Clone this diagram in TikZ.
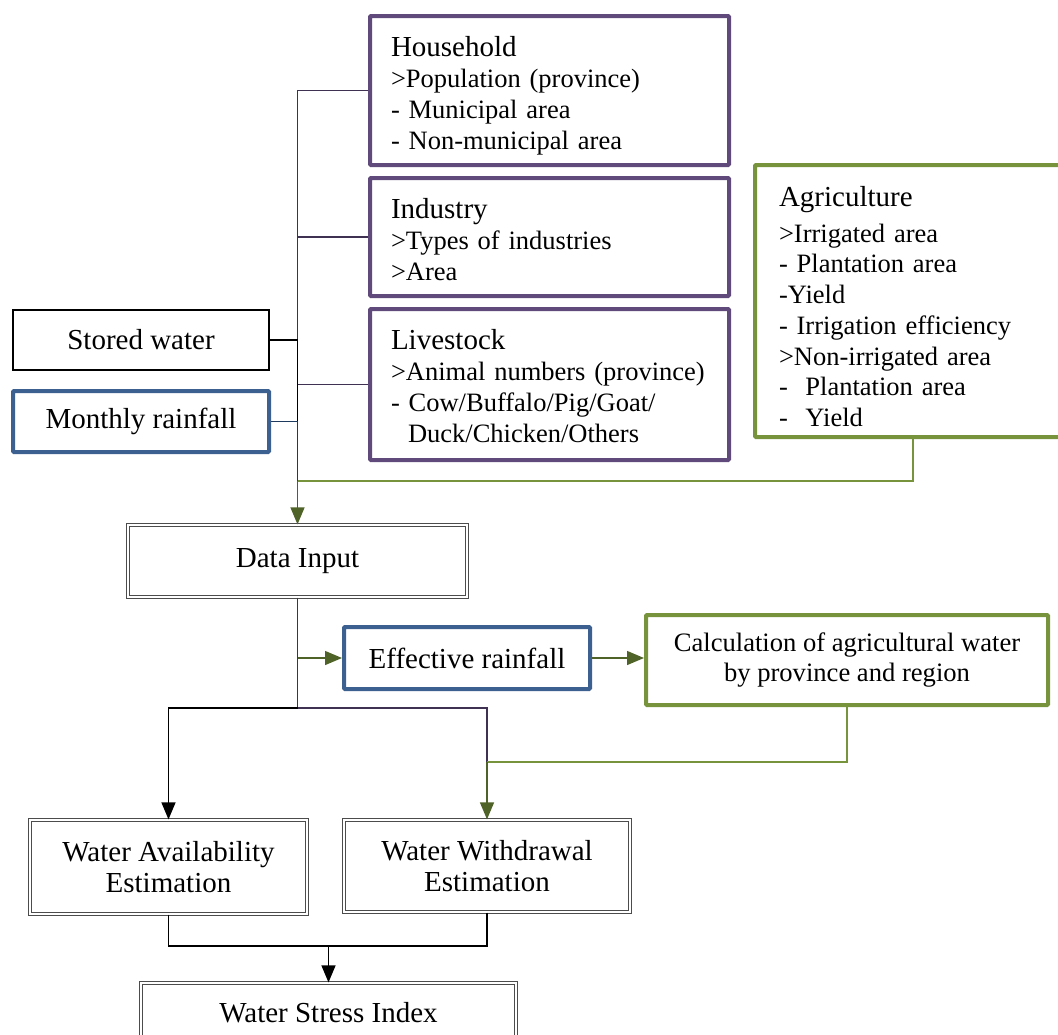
\documentclass[tikz,border=0pt]{standalone}
\usepackage{fontspec}
\setmainfont{Liberation Serif}
\definecolor{mBoxPurple}{HTML}{604A7B}
\definecolor{mLinePurple}{HTML}{3F3151}
\definecolor{mBoxBlue}{HTML}{3C6090}
\definecolor{mLineNavy}{HTML}{1F3A5F}
\definecolor{mBoxGreen}{HTML}{77933C}
\definecolor{mDarkGreen}{HTML}{4F6228}
\usetikzlibrary{positioning,arrows.meta,calc}
\newcommand{\boxtitle}[1]{{\fontsize{29}{31}\selectfont #1}}

\begin{document}
\begin{tikzpicture}[x=1pt, y=-1pt, font=\fontsize{29}{31}\selectfont,
  listfont/.style={font=\fontsize{26.5}{31}\selectfont},
  purplebox/.style={draw=mBoxPurple, line width=4pt, rounded corners=1pt, listfont, align=left, inner xsep=21pt, inner ysep=0pt},
  bluebox/.style={draw=mBoxBlue, line width=4pt, rounded corners=1pt, align=center, inner sep=0pt},
  greenbox/.style={draw=mBoxGreen, line width=4pt, rounded corners=1pt, inner sep=0pt},
  plainbox/.style={draw=black, line width=2pt, align=center, inner sep=0pt},
  dblbox/.style={draw=white, line width=1.2pt, preaction={draw=black!70, line width=3.6pt}, align=center, inner sep=0pt},
  tip/.style={-{Triangle[length=17pt, width=14pt]}},
  lnk/.style={line width=1.3pt}]
\useasboundingbox (0,0) rectangle (1058,1034);

% input boxes
\node[purplebox, text width=317pt, minimum height=149pt, text depth=88pt] (hh) at (549.5,90.5) {\boxtitle{Household}\\ >Population (province)\\ - Municipal area\\ - Non-municipal area};
\node[purplebox, text width=317pt, minimum height=118pt, text depth=58pt] (ind) at (549.5,237) {\boxtitle{Industry}\\ >Types of industries\\ >Area};
\node[purplebox, text width=317pt, minimum height=151pt, text depth=91pt] (live) at (549.5,384.5) {\boxtitle{Livestock}\\ >Animal numbers (province)\\ - Cow/Buffalo/Pig/Goat/\\ \hspace*{17pt}Duck/Chicken/Others};
\node[greenbox, font=\fontsize{26.5}{30.7}\selectfont, align=left, inner xsep=24pt, text width=268pt, minimum height=272pt, text depth=209pt] (agri) at (913,301) {\boxtitle{Agriculture}\\[5pt] >Irrigated area\\ - Plantation area\\ -Yield\\ - Irrigation efficiency\\ >Non-irrigated area\\ - \ Plantation area\\ - \ Yield};
\node[plainbox, minimum width=256pt, minimum height=60pt] (stored) at (141,340) {Stored water};
\node[bluebox, minimum width=256pt, minimum height=61pt] (rain) at (141,421.5) {Monthly rainfall};

% processing boxes
\node[dblbox, minimum width=339pt, minimum height=72pt] (din) at (297.5,561) {Data Input};
\node[bluebox, minimum width=246pt, minimum height=62pt] (eff) at (467,658) {Effective rainfall};
\node[greenbox, align=center, font=\fontsize{26.6}{30}\selectfont, minimum width=402pt, minimum height=90pt] (calc) at (847,660) {Calculation of agricultural water\\ by province and region};
\node[dblbox, minimum width=277pt, minimum height=94pt] (wae) at (168.5,867) {Water Availability\\ Estimation};
\node[dblbox, minimum width=286pt, minimum height=92pt] (wwe) at (487,866) {Water Withdrawal\\ Estimation};
\node[dblbox, minimum width=375pt, minimum height=60pt] (wsi) at (328.5,1013) {Water Stress Index};

\coordinate (trunk) at (297.5,481);
\coordinate (split) at (297.5,708);
\coordinate (merge) at (487,762);
\coordinate (join) at (328.5,946);

% links into Data Input
\draw[lnk, mLinePurple] (hh.west) -| (trunk);
\draw[lnk, mLinePurple] (ind.west) -| (trunk);
\draw[lnk, mLinePurple] (live.west) -| (trunk);
\draw[lnk, black] (stored.east) -| (trunk);
\draw[lnk, mLineNavy] (rain.east) -| (trunk);
\draw[lnk, mBoxGreen] (agri.south) |- (trunk);
\draw[lnk, tip, mDarkGreen] (trunk) -- (din.north);

% links out of Data Input
\draw[lnk, mLinePurple] (din.south) -- (split);
\draw[lnk, tip, mDarkGreen] (din.south |- eff.west) -- (eff.west);
\draw[lnk, tip, mDarkGreen] (eff.east) -- (eff.east -| calc.west);
\draw[lnk, tip, black] (split) -| (wae.north);
\draw[lnk, mLinePurple] (split) -| (merge);
\draw[lnk, mBoxGreen] (calc.south) |- (merge);
\draw[lnk, tip, mDarkGreen] (merge) -- (wwe.north);

% links into Water Stress Index
\draw[lnk, black] (wae.south) |- (join);
\draw[lnk, black] (wwe.south) |- (join);
\draw[lnk, tip, black] (join) -- (wsi.north);
\end{tikzpicture}
\end{document}
